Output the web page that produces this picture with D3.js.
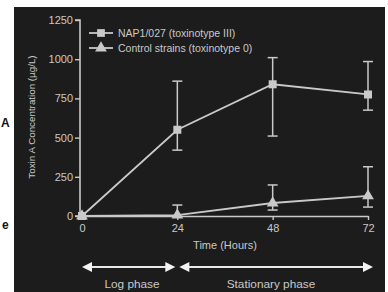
<!DOCTYPE html>
<html><head><meta charset="utf-8">
<script src="https://cdn.jsdelivr.net/npm/d3@7"></script>
<style>
html,body{margin:0;padding:0;background:#fff;}
svg{display:block;font-family:"Liberation Sans",Arial,sans-serif;}
</style></head>
<body>
<script>
const hours = [0, 24, 48, 72];
const yTicks = [0, 250, 500, 750, 1000, 1250];
const seriesNames = ["NAP1/027 (toxinotype III)", "Control strains (toxinotype 0)"];
const napMean = [0, 550, 840, 775];
const napLow = [0, 420, 510, 675];
const napHigh = [0, 860, 1010, 985];
const ctlMean = [0, 5, 83, 128];
const ctlLow = [0, 0, 38, 57];
const ctlHigh = [0, 70, 198, 314];
const phases = [{name: "Log phase", from: 0, to: 24}, {name: "Stationary phase", from: 24, to: 72}];

const W = 388, H = 292;
const svg = d3.select("body").append("svg").attr("width", W).attr("height", H);
const fg = "#c9c9c9";

// outside fragments
svg.append("text").attr("x", 1).attr("y", 127).attr("font-size", 12).attr("font-weight", "bold").attr("fill", "#111").text("A");
svg.append("text").attr("x", 2).attr("y", 229).attr("font-size", 12).attr("font-weight", "bold").attr("fill", "#111").text("e");

svg.append("rect").attr("x", 14).attr("y", 7).attr("width", 371).attr("height", H - 7).attr("fill", "#1c1c1c");

const x = d3.scaleLinear().domain([0, 72]).range([82, 368]);
const y = d3.scaleLinear().domain([0, 1250]).range([216, 20]);

// Y axis
const yAxis = svg.append("g").attr("transform", "translate(80,0)")
  .call(d3.axisLeft(y).tickValues(yTicks).tickFormat(d3.format("d")).tickSize(5).tickPadding(2));
// X axis
const xAxis = svg.append("g").attr("transform", "translate(0,216)")
  .call(d3.axisBottom(x).tickValues(hours).tickFormat(d3.format("d")).tickSize(4).tickPadding(4).tickSizeOuter(0));
[yAxis, xAxis].forEach(a => {
  a.select(".domain").attr("stroke", fg).attr("stroke-width", 1.6);
  a.selectAll(".tick line").attr("stroke", fg).attr("stroke-width", 1.4);
  a.selectAll("text").attr("fill", fg).attr("font-size", 11).attr("font-family", "Liberation Sans, Arial, sans-serif");
});
yAxis.select(".domain").attr("d", `M-5,${y(1250)}H0V${y(0)}H-5`);

svg.append("text").attr("x", x(36)).attr("y", 249).attr("text-anchor", "middle")
  .attr("font-size", 11).attr("fill", fg).text("Time (Hours)");
svg.append("text").attr("transform", `translate(35,${117}) rotate(-90)`).attr("text-anchor", "middle")
  .attr("font-size", 9.8).attr("fill", fg).text("Toxin A Concentration (µg/L)");

const line = d3.line().x(d => x(d[0])).y(d => y(d[1]));
function drawSeries(mean, low, high, marker) {
  const g = svg.append("g");
  hours.forEach((h, i) => {
    if (high[i] - low[i] > 0) {
      g.append("line").attr("x1", x(h)).attr("x2", x(h)).attr("y1", y(low[i])).attr("y2", y(high[i]))
        .attr("stroke", fg).attr("stroke-width", 1.5);
      [low[i], high[i]].forEach(v => {
        if (v > 0) g.append("line").attr("x1", x(h) - 5).attr("x2", x(h) + 5).attr("y1", y(v)).attr("y2", y(v))
          .attr("stroke", fg).attr("stroke-width", 1.5);
      });
    }
  });
  g.append("path").datum(hours.map((h, i) => [h, mean[i]])).attr("d", line)
    .attr("fill", "none").attr("stroke", fg).attr("stroke-width", 1.8);
  hours.forEach((h, i) => {
    g.append("path").attr("d", d3.symbol().type(marker).size(marker === d3.symbolSquare ? 64 : 60)())
      .attr("transform", `translate(${x(h)},${y(mean[i])})`).attr("fill", fg);
  });
}
drawSeries(ctlMean, ctlLow, ctlHigh, d3.symbolTriangle);
drawSeries(napMean, napLow, napHigh, d3.symbolSquare);

// legend
const markers = [d3.symbolSquare, d3.symbolTriangle];
seriesNames.forEach((n, i) => {
  const ly = 33 + i * 15;
  svg.append("line").attr("x1", 89).attr("x2", 113).attr("y1", ly).attr("y2", ly).attr("stroke", fg).attr("stroke-width", 1.8);
  svg.append("path").attr("d", d3.symbol().type(markers[i]).size(60)()).attr("transform", `translate(101,${ly})`).attr("fill", fg);
  svg.append("text").attr("x", 118).attr("y", ly + 3.8).attr("font-size", 10.5).attr("fill", fg).text(n);
});

// phase arrows
const ay = 267;
phases.forEach((p, i) => {
  const x1 = x(p.from) + (i === 0 ? 0 : 2), x2 = x(p.to) + (i === 0 ? -2 : 5);
  svg.append("line").attr("x1", x1 + 8).attr("x2", x2 - 8).attr("y1", ay).attr("y2", ay)
    .attr("stroke", "#e8e8e8").attr("stroke-width", 2.2);
  svg.append("path").attr("d", `M${x1},${ay}L${x1 + 10},${ay - 5}L${x1 + 10},${ay + 5}Z`).attr("fill", "#f4f4f4");
  svg.append("path").attr("d", `M${x2},${ay}L${x2 - 10},${ay - 5}L${x2 - 10},${ay + 5}Z`).attr("fill", "#f4f4f4");
  svg.append("text").attr("x", i === 0 ? 132 : 271).attr("y", 288).attr("text-anchor", "middle")
    .attr("font-size", 11.8).attr("fill", fg).text(p.name);
});
</script>
</body></html>
